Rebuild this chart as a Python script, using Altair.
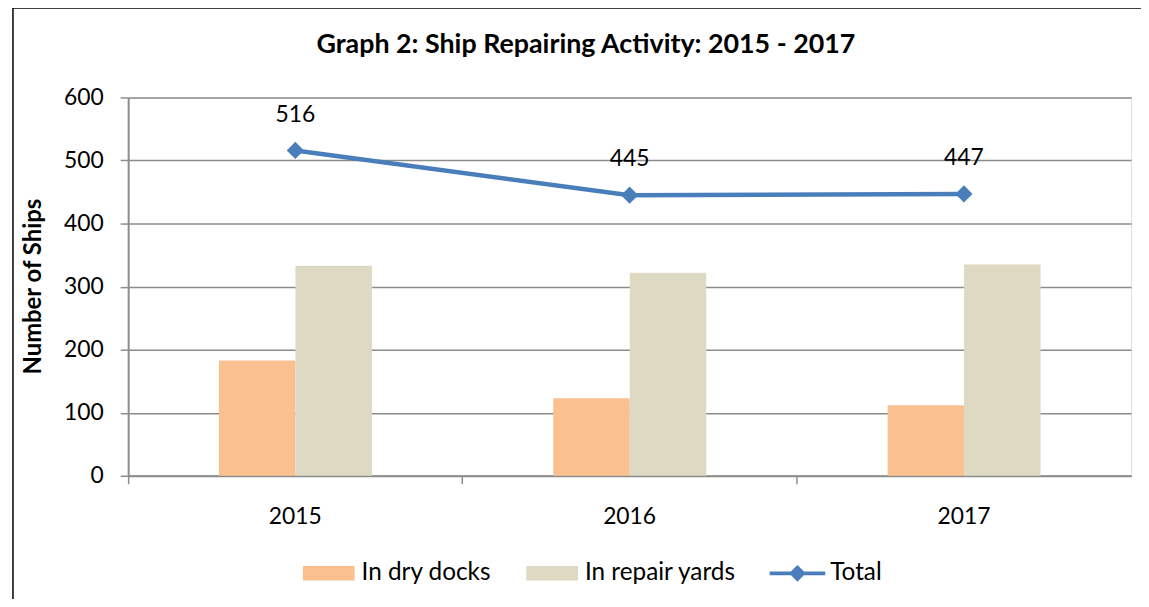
import altair as alt
import pandas as pd

years = ["2015", "2016", "2017"]
dry_docks = [183, 123, 112]
repair_yards = [333, 322, 335]
totals = [516, 445, 447]
series = ["In dry docks", "In repair yards", "Total"]
colors = ["#FAC090", "#DDD9C3", "#4A7EBB"]
y_ticks = [0, 100, 200, 300, 400, 500, 600]

bars_df = pd.DataFrame({
    "year": years * 2,
    "series": [series[0]] * 3 + [series[1]] * 3,
    "value": dry_docks + repair_yards,
})
total_df = pd.DataFrame({"year": years, "series": [series[2]] * 3, "value": totals})
frame_df = pd.DataFrame({"k": [0]})

FONT = "Lato"
GRID = "#8C8C8C"
rect_path = "M-0.93,-0.26H0.93V0.26H-0.93Z"
line_path = "M-1,-0.07H1V0.07H-1Z M0,-0.3L0.3,0L0,0.3L-0.3,0Z"

color_scale = alt.Scale(domain=series, range=colors)
shape_scale = alt.Scale(domain=series, range=[rect_path, rect_path, line_path])

legend = alt.Legend(
    title=None, orient="none", legendX=174, legendY=451, direction="horizontal",
    symbolSize=3136, symbolStrokeWidth=0, labelFont=FONT, labelFontSize=24.5,
    labelColor="#000000", labelOffset=5, columnPadding=33,
)

x_enc = alt.X(
    "year:N", sort=years,
    scale=alt.Scale(paddingInner=0, paddingOuter=0),
    axis=alt.Axis(
        title=None, labelAngle=0, bandPosition=0, labelFont=FONT, labelFontSize=23,
        labelColor="#000000", labelPadding=22, tickSize=8, tickColor=GRID, tickWidth=1.5,
        domainColor=GRID, domainWidth=2, grid=False, labelBound=False,
    ),
)
y_enc = alt.Y(
    "value:Q",
    scale=alt.Scale(domain=[0, 600], nice=False),
    axis=alt.Axis(
        values=y_ticks, title="Number of Ships", titleFont=FONT, titleFontSize=24,
        titleFontWeight="bold", titleColor="#000000", titleAngle=270, titleBaseline="middle",
        titleX=-95, titleY=190, labelFont=FONT, labelFontSize=23, labelColor="#000000",
        labelPadding=17, tickSize=8, tickColor=GRID, tickWidth=1.5, domainColor=GRID,
        domainWidth=2, gridColor=GRID, gridWidth=1.5,
    ),
)

bars = alt.Chart(bars_df).mark_bar().encode(
    x=x_enc,
    y=y_enc,
    xOffset=alt.XOffset("series:N", sort=series[:2],
                        scale=alt.Scale(range=[91.5, 245.5], paddingInner=0, paddingOuter=0)),
    color=alt.Color("series:N", scale=color_scale, legend=legend),
)

line = alt.Chart(total_df).mark_line(color=colors[2], strokeWidth=4.5).encode(
    x=alt.X("year:N", sort=years), y="value:Q"
)

carrier = alt.Chart(total_df).mark_point(filled=True, size=40, opacity=1).encode(
    x=alt.X("year:N", sort=years), y="value:Q",
    color=alt.Color("series:N", scale=color_scale, legend=legend),
    shape=alt.Shape("series:N", scale=shape_scale, legend=legend),
)

diamonds = alt.Chart(total_df).mark_point(
    shape="diamond", filled=True, size=300, color=colors[2], opacity=1
).encode(x=alt.X("year:N", sort=years), y="value:Q")

labels = alt.Chart(total_df).mark_text(
    font=FONT, fontSize=23, color="#000000", baseline="middle", dy=-36
).encode(x=alt.X("year:N", sort=years), y="value:Q", text="value:Q")

frame_left = alt.Chart(frame_df).mark_rule(color="#000000", strokeWidth=1.5).encode(
    x=alt.value(-116), y=alt.value(-90), y2=alt.value(520)
)
frame_top = alt.Chart(frame_df).mark_rule(color="#000000", strokeWidth=1.5).encode(
    x=alt.value(-116), x2=alt.value(1040), y=alt.value(-90)
)

chart = alt.layer(bars, line, carrier, diamonds, labels, frame_left, frame_top).properties(
    width=1010, height=381,
    padding={"left": 121, "top": 88, "right": 10, "bottom": 122},
    autosize=alt.AutoSizeParams(type="none"),
    title=alt.Title(
        "Graph 2: Ship Repairing Activity: 2015 - 2017", font=FONT, fontSize=27,
        fontWeight="bold", color="#000000", anchor="middle", dx=-44, frame="group",
        baseline="alphabetic", offset=-73,
    ),
).configure_view(stroke=None).configure(background="#FFFFFF")

chart.save("out.html", embed_options={"renderer": "svg", "actions": False})
